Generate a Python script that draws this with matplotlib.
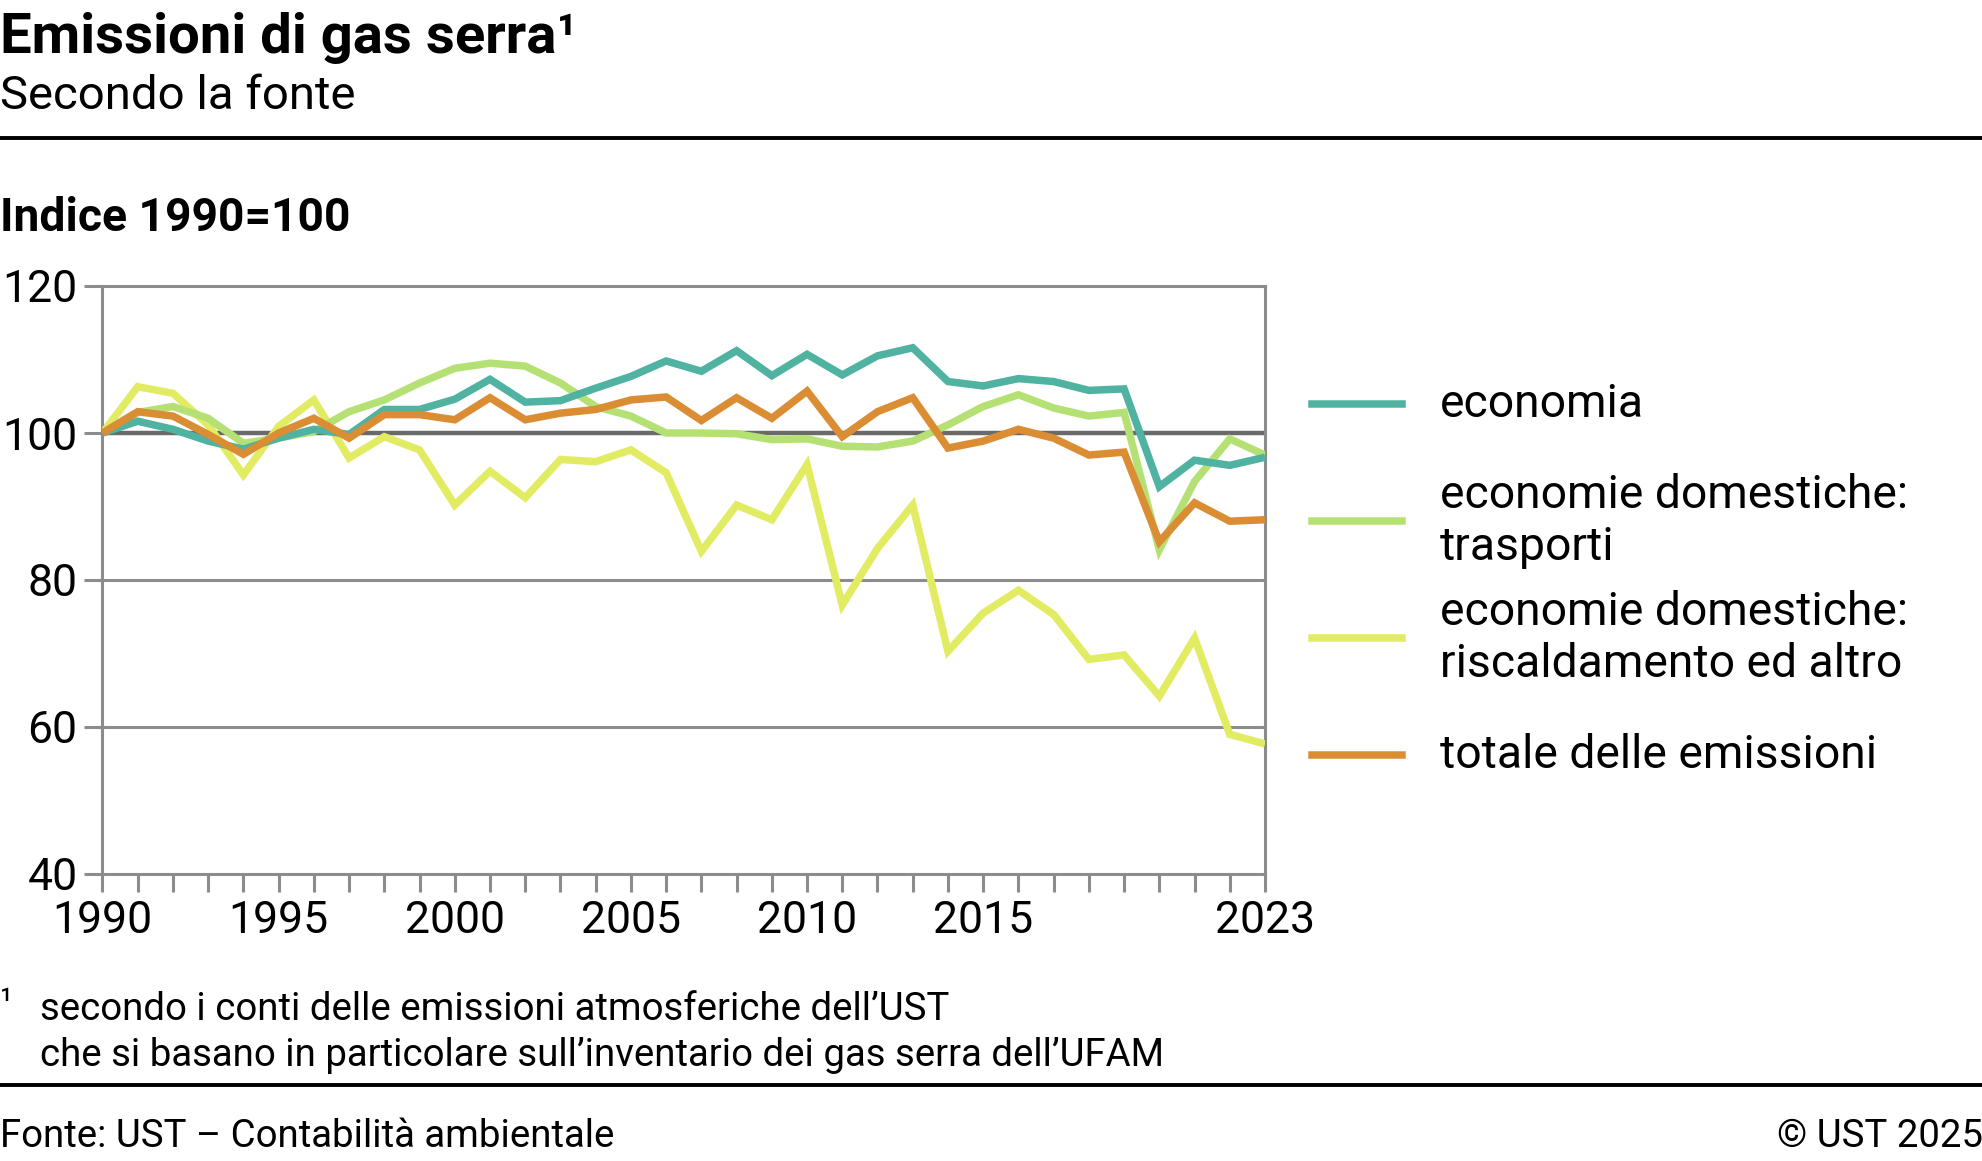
import matplotlib
matplotlib.use("Agg")
from matplotlib import pyplot as plt
from matplotlib.lines import Line2D

# Index 1990=100
years = list(range(1990, 2024))

economia = [100, 101.6, 100.5, 98.9, 97.8, 99.3, 100.5, 99.8, 103.2, 103.2,
            104.6, 107.3, 104.2, 104.4, 106.1, 107.7, 109.8, 108.4, 111.2, 107.8,
            110.7, 107.9, 110.5, 111.6, 107.0, 106.4, 107.4, 107.0, 105.8, 106.0,
            92.7, 96.3, 95.6, 96.7]

trasporti = [100, 102.8, 103.6, 102.0, 98.6, 99.3, 100.2, 102.9, 104.5, 106.8,
             108.8, 109.5, 109.1, 106.8, 103.6, 102.3, 100.0, 100.0, 99.9, 99.1,
             99.2, 98.2, 98.1, 98.9, 101.1, 103.6, 105.2, 103.4, 102.3, 102.8,
             84.1, 93.4, 99.2, 97.0]

riscaldamento = [100, 106.3, 105.4, 101.1, 94.3, 100.9, 104.5, 96.6, 99.5, 97.7,
                 90.2, 94.8, 91.2, 96.4, 96.1, 97.7, 94.6, 83.9, 90.2, 88.2,
                 95.7, 76.6, 84.3, 90.2, 70.3, 75.5, 78.6, 75.3, 69.2, 69.8,
                 64.2, 72.1, 59.0, 57.7]

totale = [100, 102.9, 102.3, 99.8, 97.1, 100.0, 102.0, 99.3, 102.5, 102.5,
          101.8, 104.8, 101.8, 102.7, 103.2, 104.5, 104.9, 101.7, 104.8, 102.0,
          105.7, 99.5, 102.9, 104.8, 97.95, 98.9, 100.5, 99.3, 97.0, 97.4,
          85.2, 90.5, 88.0, 88.2]

labels = ["economia", "economie domestiche:\ntrasporti",
          "economie domestiche:\nriscaldamento ed altro", "totale delle emissioni"]
colors = ["#50B2A0", "#B5E174", "#E1EC63", "#DA8D33"]
xtick_labels = [1990, 1995, 2000, 2005, 2010, 2015, 2023]
yticks = [40, 60, 80, 100, 120]

W, H = 1983, 1161
plt.rcParams['font.family'] = ['Roboto', 'DejaVu Sans']
fig = plt.figure(figsize=(W / 100, H / 100), dpi=100)

def fx(px):
    return px / W

def fy(py):
    return 1 - py / H

ax = fig.add_axes([fx(102.5), fy(874), fx(1265) - fx(102.5), fy(286) - fy(874)])

grey = "#8c8c8c"
for v in [60, 80]:
    ax.axhline(v, color=grey, lw=2.2, zorder=1)
ax.axhline(100, color="#6a6a6a", lw=3.2, zorder=1)

series = [economia, trasporti, riscaldamento, totale]
# draw order: yellow below, then green, teal, orange on top
for i in [2, 1, 0, 3]:
    ax.plot(years, series[i], color=colors[i], lw=5.4, solid_joinstyle='miter',
            solid_capstyle='butt', zorder=3)

ax.set_xlim(1990, 2023)
ax.set_ylim(40, 120)
ax.set_yticks(yticks)
ax.set_xticks(years)
ax.set_xticklabels([str(y) if y in xtick_labels else "" for y in years])
ax.tick_params(axis='x', direction='out', length=13, width=2.2, color=grey,
               labelsize=32, pad=6)
ax.tick_params(axis='y', direction='out', length=13, width=2.2, color=grey,
               labelsize=32, pad=5)
for s in ax.spines.values():
    s.set_color(grey)
    s.set_linewidth(2.2)

# legend drawn by hand so spacing matches the original
legend_y = [404, 521, 638, 755]
for lab, col, y in zip(labels, colors, legend_y):
    fig.add_artist(Line2D([fx(1312), fx(1402)], [fy(y), fy(y)], color=col, lw=5.4,
                          transform=fig.transFigure))
    fig.text(fx(1440), fy(y), lab, fontsize=33.3, va='center', ha='left',
             linespacing=1.22)

# titles
fig.text(fx(0), fy(53), "Emissioni di gas serra¹", fontsize=40.5, fontweight='bold',
         va='baseline')
fig.text(fx(0), fy(109), "Secondo la fonte", fontsize=34, va='baseline')
fig.text(fx(0), fy(231), "Indice 1990=100", fontsize=33.3, fontweight='bold',
         va='baseline')
fig.add_artist(Line2D([0, 1], [fy(138), fy(138)], color='black', lw=2.8,
                      transform=fig.transFigure))

# footnotes
fig.text(fx(0), fy(1012), "¹", fontsize=25, va='baseline')
fig.text(fx(40), fy(1020), "secondo i conti delle emissioni atmosferiche dell’UST",
         fontsize=27.6, va='baseline')
fig.text(fx(40), fy(1066), "che si basano in particolare sull’inventario dei gas serra dell’UFAM",
         fontsize=27.6, va='baseline')
fig.add_artist(Line2D([0, 1], [fy(1085), fy(1085)], color='black', lw=2.8,
                      transform=fig.transFigure))
fig.text(fx(0), fy(1147), "Fonte: UST – Contabilità ambientale", fontsize=27.6,
         va='baseline')
fig.text(1, fy(1147), "© UST 2025", fontsize=27.6, va='baseline', ha='right')

fig.savefig("out.png", dpi=100)
